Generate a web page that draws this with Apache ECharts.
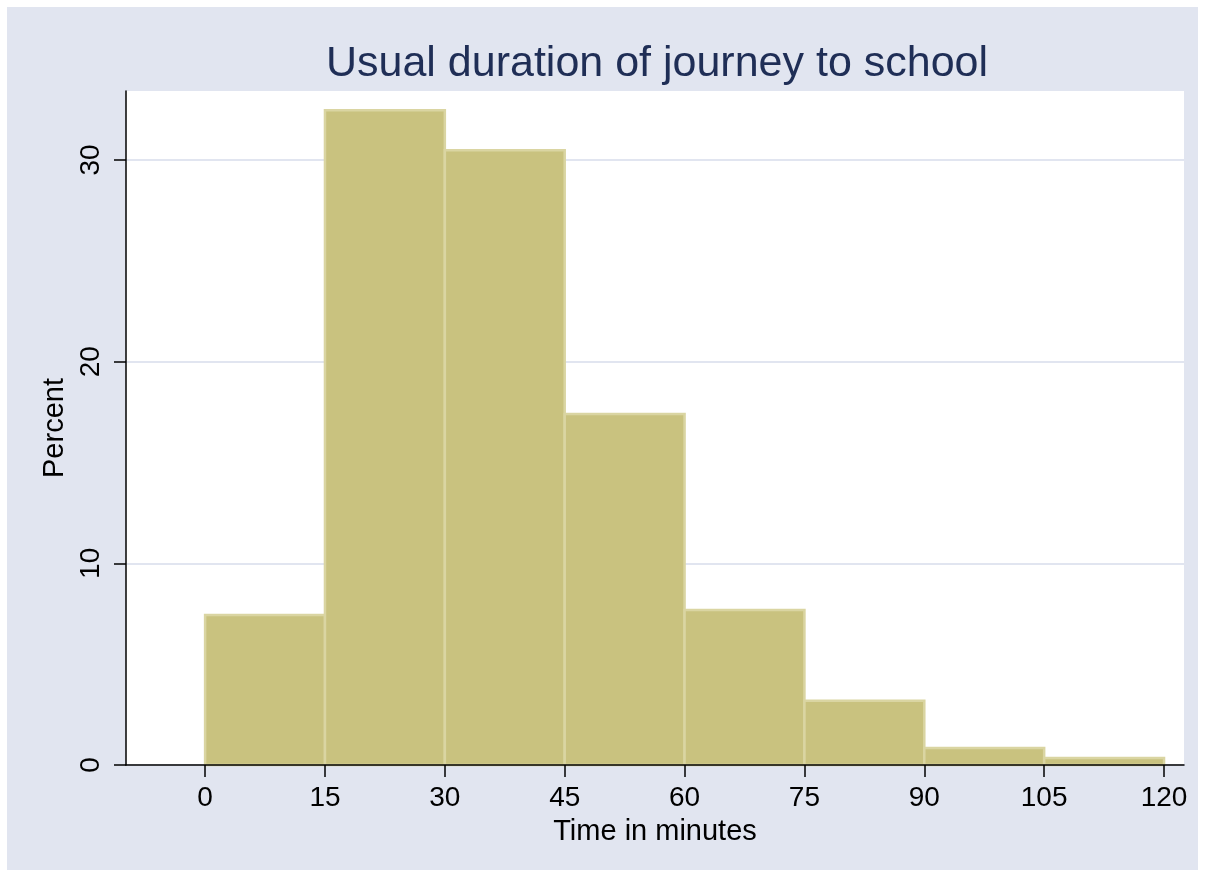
<!DOCTYPE html>
<html><head><meta charset="utf-8">
<script src="https://cdn.jsdelivr.net/npm/echarts@6/dist/echarts.min.js"></script>
<style>html,body{margin:0;padding:0;background:#fff}#c{width:1205px;height:877px}</style>
</head><body><div id="c"></div>
<script>
const binStart = [0, 15, 30, 45, 60, 75, 90, 105];
const binEnd = [15, 30, 45, 60, 75, 90, 105, 120];
const percent = [7.44, 32.46, 30.48, 17.40, 7.69, 3.19, 0.84, 0.35];
const xTicks = [0, 15, 30, 45, 60, 75, 90, 105, 120];
const yTicks = [0, 10, 20, 30];
const titleText = 'Usual duration of journey to school';
const xName = 'Time in minutes';
const yName = 'Percent';

const data = binStart.map((s, i) => [s, binEnd[i], percent[i]]);
const FONT = '"Liberation Sans", Arial, sans-serif';

const chart = echarts.init(document.getElementById('c'), null, {renderer: 'canvas'});
chart.setOption({
  backgroundColor: '#ffffff',
  animation: false,
  graphic: [{
    type: 'rect', z: -100, silent: true,
    shape: {x: 7, y: 7, width: 1191, height: 863},
    style: {fill: '#E1E5F0'}
  }],
  title: {
    text: titleText, left: 652, top: 38, textAlign: 'center',
    textStyle: {fontFamily: FONT, fontSize: 43, fontWeight: 'normal', color: '#1F2E56'}
  },
  grid: {left: 126, right: 21, top: 91, bottom: 112, show: true, backgroundColor: '#ffffff', borderWidth: 0},
  xAxis: {
    type: 'value', min: -9.9, max: 122.5, z: 5,
    name: xName, nameLocation: 'middle', nameGap: 52,
    nameTextStyle: {fontFamily: FONT, fontSize: 29, color: '#000'},
    axisLine: {show: true, onZero: false, lineStyle: {color: '#000', width: 1.5}},
    axisTick: {show: true, length: 12, customValues: xTicks, lineStyle: {color: '#000', width: 1.5}},
    axisLabel: {customValues: xTicks, fontFamily: FONT, fontSize: 28, color: '#000', margin: 19},
    splitLine: {show: false}
  },
  yAxis: {
    type: 'value', min: 0, max: 33.42,
    name: yName, nameLocation: 'middle', nameGap: 51, nameRotate: 90,
    nameTextStyle: {fontFamily: FONT, fontSize: 29, color: '#000'},
    axisLine: {show: true, onZero: false, lineStyle: {color: '#000', width: 1.5}},
    axisTick: {show: true, length: 12, customValues: yTicks, lineStyle: {color: '#000', width: 1.5}},
    axisLabel: {customValues: yTicks, rotate: 90, fontFamily: FONT, fontSize: 28, color: '#000', margin: 21},
    splitLine: {show: true, lineStyle: {color: '#E1E5F0', width: 2}}
  },
  series: [{
    type: 'custom', z: 2,
    encode: {x: [0, 1], y: 2},
    data: data,
    renderItem: function (params, api) {
      const p0 = api.coord([api.value(0), api.value(2)]);
      const p1 = api.coord([api.value(1), 0]);
      return {
        type: 'rect',
        shape: {x: p0[0], y: p0[1], width: p1[0] - p0[0], height: p1[1] - p0[1]},
        style: {fill: '#C9C27F', stroke: '#DAD5A2', lineWidth: 2.5}
      };
    }
  }]
});
</script></body></html>
